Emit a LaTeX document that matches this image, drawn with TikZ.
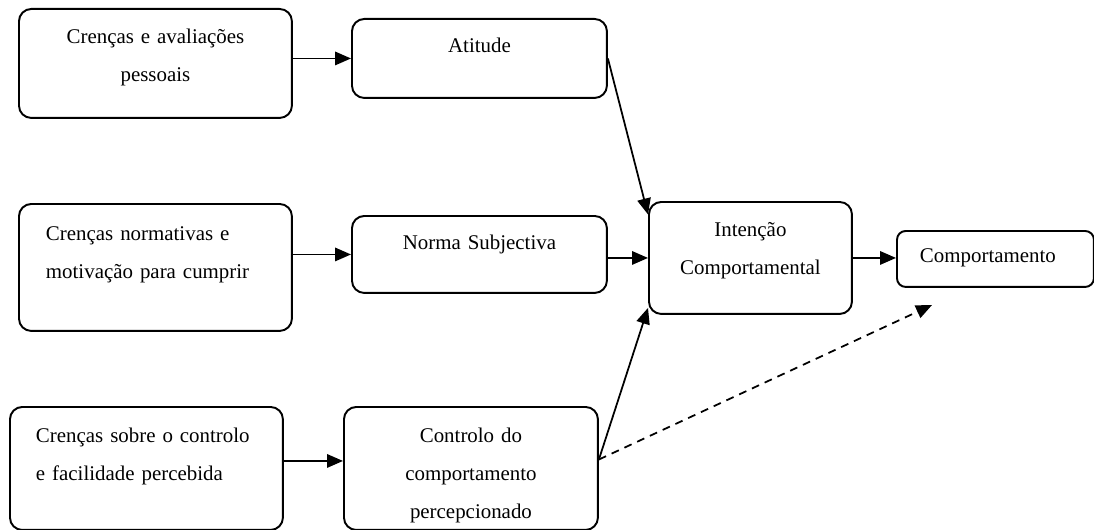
\documentclass[tikz,border=0pt]{standalone}
\usepackage{fontspec}
\setmainfont{Liberation Serif}
\usetikzlibrary{arrows.meta}

\begin{document}
\begin{tikzpicture}[x=0.02cm, y=-0.02cm, every node/.style={font=\fontsize{11.9}{21.5}\selectfont}, bx/.style={draw, rounded corners=7pt, line width=1.1pt, anchor=north west, inner ysep=0pt, inner xsep=0.24cm, align=center}, arr/.style={-{Triangle[length=0.32cm, width=0.27cm]}, line width=1pt}]
\useasboundingbox (0,0) rectangle (1094,530);
\node[bx, text width=4.98cm, text height=0.70cm, text depth=1.48cm] (bel) at (18,8) {Crenças e avaliações\\pessoais};
\node[bx, text width=4.62cm, text height=0.68cm, text depth=0.90cm] (att) at (351,18) {Atitude};
\node[bx, align=left, text width=4.38cm, inner xsep=0.54cm, text height=0.74cm, text depth=1.80cm] (nor) at (18,203) {Crenças normativas e\\motivação para cumprir};
\node[bx, text width=4.62cm, text height=0.68cm, text depth=0.86cm] (sn) at (351,215) {Norma Subjectiva};
\node[bx, align=left, text width=4.42cm, inner xsep=0.52cm, text height=0.72cm, text depth=1.74cm] (ctl) at (9,406) {Crenças sobre o controlo\\e facilidade percebida};
\node[bx, text width=4.60cm, text height=0.72cm, text depth=1.74cm] (pbc) at (343,406) {Controlo do\\comportamento\\percepcionado};
\node[bx, text width=3.66cm, inner xsep=0.20cm, text height=0.70cm, text depth=1.54cm] (int) at (648,201) {Intenção\\Comportamental};
\node[bx, align=left, rounded corners=5pt, text width=3.02cm, inner xsep=0.46cm, text height=0.64cm, text depth=0.48cm] (beh) at (896,230) {Comportamento};
\coordinate (dashend) at (932,305);
\draw[arr] (att.west -| bel.east) -- (att.west);
\draw[arr] (sn.west -| nor.east) -- (sn.west);
\draw[arr] ([yshift=0.15cm]ctl.east) -- ([yshift=0.15cm]ctl.east -| pbc.west);
\draw[arr] (att.east) -- (int.157);
\draw[arr] (int.west -| sn.east) -- (int.west);
\draw[arr] (pbc.4) -- (int.206);
\draw[arr, dash pattern=on 4.5pt off 3.5pt] (pbc.4) -- (dashend);
\draw[arr] (int.east) -- (int.east -| beh.west);
\end{tikzpicture}
\end{document}
